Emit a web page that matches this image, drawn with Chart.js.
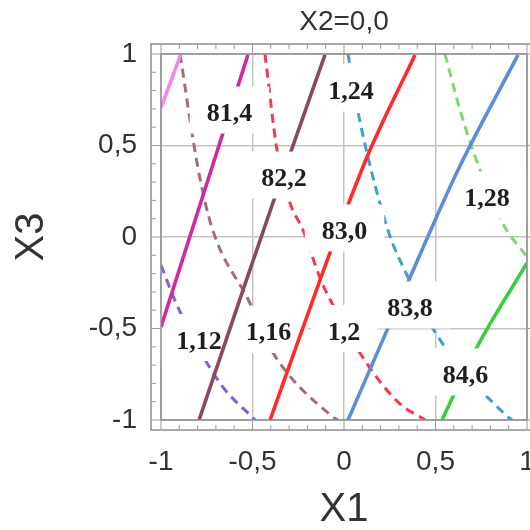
<!DOCTYPE html>
<html><head><meta charset="utf-8">
<script src="https://cdn.jsdelivr.net/npm/chart.js@4.4.1/dist/chart.umd.min.js"></script>
<style>html,body{margin:0;padding:0;background:#fff}</style>
</head><body>
<canvas id="c" width="530" height="530"></canvas>
<script>
// ---------- text ----------
const chartTitle = 'X2=0,0';
const xTitle = 'X1';
const yTitle = 'X3';
const tickValues = [-1, -0.5, 0, 0.5, 1];
const tickLabels = ['-1', '-0,5', '0', '0,5', '1'];

// ---------- solid contours (first response) ----------
const solidNames = ['80,6', '81,4', '82,2', '83,0', '83,8', '84,6'];
const s806X = [-1, -0.891];              const s806Y = [0.705, 1];
const s814X = [-1, -0.525];              const s814Y = [-0.492, 0.995];
const s822X = [-0.792, -0.552, -0.383, -0.104]; const s822Y = [-1, -0.290, 0.202, 0.995];
const s830X = [-0.404, -0.131, 0.022, 0.142, 0.388]; const s830Y = [-1, -0.235, 0.175, 0.475, 0.995];
const s838X = [0.022, 0.350, 0.623, 0.951]; const s838Y = [-1, -0.246, 0.366, 0.995];
const s846X = [0.536, 0.607, 0.727, 1];  const s846Y = [-1, -0.847, -0.601, -0.142];

// ---------- dashed contours (second response) ----------
const dashedNames = ['1,12', '1,16', '1,2', '1,24', '1,28'];
const d112X = [-1, -0.913, -0.678, -0.486]; const d112Y = [-0.153, -0.372, -0.798, -1];
const d116X = [-0.896, -0.798, -0.721, -0.514, -0.404, -0.060, -0.033];
const d116Y = [1, 0.377, 0.049, -0.361, -0.607, -0.984, -1];
const d120X = [-0.432, -0.366, -0.295, -0.224, -0.131, -0.066, 0.087, 0.295, 0.443];
const d120Y = [1, 0.475, 0.186, 0.038, -0.224, -0.361, -0.634, -0.902, -1];
const d124X = [0.022, 0.071, 0.240, 0.344, 0.497, 0.896, 0.918];
const d124Y = [1, 0.710, 0.038, -0.208, -0.519, -0.984, -1];
const d128X = [0.552, 0.634, 0.743, 0.863, 1];
const d128Y = [1, 0.694, 0.366, 0.082, -0.109];

// ---------- contour labels (text + anchor in data units) ----------
const solidLabelText = ['81,4', '82,2', '83,0', '83,8', '84,6'];
const solidLabelX = [-0.626, -0.328, 0.003, 0.361, 0.664];
const solidLabelY = [0.680, 0.325, 0.036, -0.385, -0.751];
const dashedLabelText = ['1,12', '1,16', '1,2', '1,24', '1,28'];
const dashedLabelX = [-0.792, -0.413, 0.0, 0.038, 0.781];
const dashedLabelY = [-0.563, -0.519, -0.514, 0.801, 0.216];

// ---------- styles ----------
const solidColors = ['#ee88ee', '#d02a9c', '#8b4a58', '#ff2a2a', '#5a8ed8', '#3dcc3d'];
const dashedColors = ['#8a5cd6', '#a46e74', '#f23a50', '#40a0c8', '#80d870'];

const solidData = [[s806X,s806Y],[s814X,s814Y],[s822X,s822Y],[s830X,s830Y],[s838X,s838Y],[s846X,s846Y]];
const dashedData = [[d112X,d112Y],[d116X,d116Y],[d120X,d120Y],[d124X,d124Y],[d128X,d128Y]];
const pts = (xs, ys) => xs.map((x, i) => ({x: x, y: ys[i]}));

const datasets = [];
dashedData.forEach((d, i) => datasets.push({
  label: dashedNames[i], family: 'dashed', data: pts(d[0], d[1]),
  showLine: true, pointRadius: 0, borderColor: dashedColors[i], borderWidth: 3,
  borderDash: [9, 6], cubicInterpolationMode: 'monotone', order: 2
}));
solidData.forEach((d, i) => datasets.push({
  label: solidNames[i], family: 'solid', data: pts(d[0], d[1]),
  showLine: true, pointRadius: 0, borderColor: solidColors[i], borderWidth: 3.6,
  cubicInterpolationMode: 'monotone', order: 1
}));
const dashedCount = dashedData.length;

function drawLabels(chart, texts, xs, ys) {
  const ctx = chart.ctx, sx = chart.scales.x, sy = chart.scales.y;
  ctx.save();
  ctx.font = 'bold 26px "Liberation Serif"';
  ctx.textAlign = 'center';
  ctx.textBaseline = 'alphabetic';
  texts.forEach((t, i) => {
    const cx = sx.getPixelForValue(xs[i]);
    const cy = sy.getPixelForValue(ys[i]);
    const w = ctx.measureText(t).width;
    ctx.fillStyle = '#ffffff';
    ctx.fillRect(cx - w / 2 - 17, cy - 26, w + 34, 47);
    ctx.fillStyle = '#1e1e1e';
    ctx.fillText(t, cx, cy + 8.5);
  });
  ctx.restore();
}

function drawFrame(chart) {
  const {left, right, top, bottom} = chart.chartArea;
  const ctx = chart.ctx, sx = chart.scales.x, sy = chart.scales.y;
  const g = 10;
  ctx.save();
  ctx.strokeStyle = '#8e8e8e';
  ctx.lineWidth = 1.5;
  ctx.strokeRect(left, top, right - left, bottom - top);
  ctx.strokeRect(left - g, top - g, right - left + 2 * g, bottom - top + 2 * g);
  ctx.lineWidth = 1;
  ctx.strokeStyle = '#9a9a9a';
  ctx.beginPath();
  for (let i = -10; i <= 10; i++) {
    const v = i / 10;
    const len = (i % 5 === 0) ? g : 5;
    const px = sx.getPixelForValue(v);
    const py = sy.getPixelForValue(v);
    ctx.moveTo(px, bottom + g); ctx.lineTo(px, bottom + g - len);
    ctx.moveTo(px, top - g); ctx.lineTo(px, top - g + len);
    ctx.moveTo(left - g, py); ctx.lineTo(left - g + len, py);
    ctx.moveTo(right + g, py); ctx.lineTo(right + g - len, py);
  }
  ctx.stroke();
  ctx.restore();
}

const overlay = {
  id: 'overlay',
  beforeDatasetsDraw() { this._n = 0; },
  afterDatasetDraw(chart, args) {
    const ds = chart.data.datasets[args.index];
    if (ds.family === 'dashed') {
      this._n++;
      if (this._n === dashedCount) drawLabels(chart, dashedLabelText, dashedLabelX, dashedLabelY);
    }
  },
  afterDatasetsDraw(chart) {
    drawLabels(chart, solidLabelText, solidLabelX, solidLabelY);
    drawFrame(chart);
  }
};

const txt = '#333333';
new Chart(document.getElementById('c'), {
  type: 'scatter',
  data: {datasets: datasets},
  plugins: [overlay],
  options: {
    responsive: false, animation: false,
    layout: {padding: {left: 0, right: 3, top: 0, bottom: 0}},
    plugins: {
      legend: {display: false}, tooltip: {enabled: false},
      title: {display: true, text: chartTitle, color: txt, fullSize: false,
        font: {family: 'Liberation Sans', size: 28, weight: 'normal', lineHeight: 1.2},
        padding: {top: 5, bottom: 15.4}}
    },
    scales: {
      x: {
        type: 'linear', min: -1, max: 1,
        afterBuildTicks(s) { s.ticks = tickValues.map(v => ({value: v})); },
        afterFit(s) { s.height = 110; s.paddingLeft = 0; s.paddingRight = 0; },
        ticks: {callback: v => tickLabels[tickValues.indexOf(v)], color: txt, padding: 25,
          maxRotation: 0, autoSkip: false, font: {family: 'Liberation Sans', size: 28}},
        grid: {color: '#c4c4c4', lineWidth: 1.5, drawTicks: false},
        border: {display: false},
        title: {display: true, text: xTitle, color: txt, padding: {top: 0, bottom: 0},
          font: {family: 'Liberation Sans', size: 40, lineHeight: 1}}
      },
      y: {
        type: 'linear', min: -1, max: 1,
        afterBuildTicks(s) { s.ticks = tickValues.map(v => ({value: v})); },
        afterFit(s) { s.width = 161; s.paddingTop = 0; s.paddingBottom = 0; },
        ticks: {callback: v => tickLabels[tickValues.indexOf(v)], color: txt, padding: 24,
          autoSkip: false, font: {family: 'Liberation Sans', size: 28}},
        grid: {color: '#c4c4c4', lineWidth: 1.5, drawTicks: false},
        border: {display: false},
        title: {display: true, text: yTitle, color: txt, padding: {top: 12, bottom: 0},
          font: {family: 'Liberation Sans', size: 40, lineHeight: 1}}
      }
    }
  }
});
</script>
</body></html>
